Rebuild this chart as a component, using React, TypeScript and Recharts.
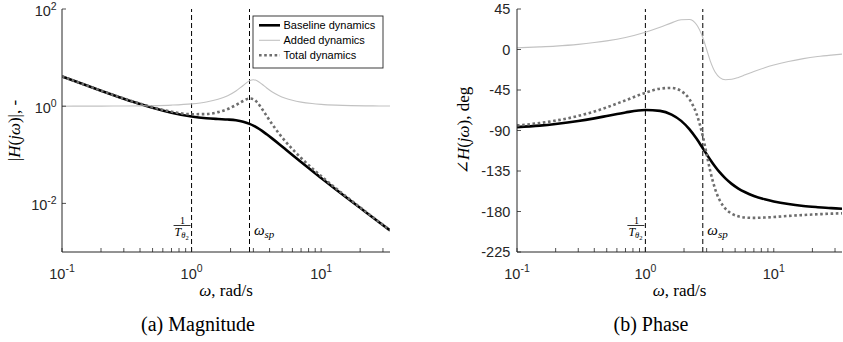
import React from 'react';
import { LineChart, Line, XAxis, YAxis, ReferenceLine } from 'recharts';

// ---- data ----
const freq = [0.1, 0.15, 0.2, 0.3, 0.4, 0.5, 0.7, 1.0, 1.3, 1.6, 1.9, 2.2, 2.5, 2.8, 3.0, 3.2, 3.5, 3.8, 4.2, 4.7, 5.3, 6, 7, 8.5, 10, 13, 17, 22, 28, 34];
const magBaseline = [4.105, 2.756, 2.087, 1.429, 1.11, 0.927, 0.734, 0.612, 0.565, 0.545, 0.532, 0.513, 0.48, 0.433, 0.398, 0.361, 0.31, 0.264, 0.215, 0.169, 0.13, 0.0989, 0.0709, 0.0469, 0.0334, 0.0194, 0.0112, 0.00667, 0.00411, 0.00278];
const magAdded = [1.001, 1.002, 1.004, 1.009, 1.016, 1.026, 1.053, 1.117, 1.221, 1.385, 1.646, 2.057, 2.667, 3.324, 3.5, 3.345, 2.835, 2.375, 1.964, 1.662, 1.457, 1.322, 1.215, 1.134, 1.092, 1.052, 1.029, 1.017, 1.011, 1.007];
const magTotal = [4.109, 2.762, 2.095, 1.442, 1.128, 0.951, 0.772, 0.684, 0.69, 0.755, 0.875, 1.055, 1.28, 1.441, 1.392, 1.209, 0.878, 0.628, 0.422, 0.28, 0.189, 0.131, 0.0861, 0.0532, 0.0365, 0.0204, 0.0116, 0.00679, 0.00415, 0.0028];
const phaseBaseline = [-86.3, -84.6, -82.8, -79.5, -76.5, -73.9, -69.9, -67.3, -68.2, -72.3, -79.3, -88.5, -99.0, -109.7, -116.3, -122.4, -130.2, -136.6, -143.2, -149.3, -154.5, -158.6, -162.7, -166.4, -168.8, -171.7, -173.8, -175.2, -176.3, -176.9];
const phaseAdded = [1.9, 2.9, 3.8, 5.7, 7.7, 9.6, 13.4, 19.2, 24.7, 29.6, 33.0, 33.4, 27.8, 13.4, 0, -12.6, -25.3, -31.2, -33.6, -33.1, -31.0, -28.1, -24.5, -20.3, -17.3, -13.3, -10.1, -7.8, -6.2, -5.1];
const phaseTotal = [-84.4, -81.7, -79.0, -73.8, -68.9, -64.3, -56.5, -48.1, -43.5, -42.7, -46.2, -55.1, -71.2, -96.2, -116.3, -135.0, -155.4, -167.8, -176.8, -182.4, -185.4, -186.7, -187.1, -186.7, -186.1, -184.9, -183.9, -183.1, -182.4, -182.0];

const seriesNames = ['Baseline dynamics', 'Added dynamics', 'Total dynamics'];
const xTicks = [0.1, 0.2, 0.3, 0.4, 0.5, 0.6, 0.7, 0.8, 0.9, 1, 2, 3, 4, 5, 6, 7, 8, 9, 10, 20, 30];
const magTicks = [0.01, 1, 100];
const phaseTicks = [-225, -180, -135, -90, -45, 0, 45];
const xDomain = [0.1, 34];
const magDomain = [0.001, 100];
const phaseDomain = [-225, 45];
const invTtheta2 = 1;
const omegaSp = 2.8;

// ---- styles ----
const AXIS = '#262626';
const SANS = '"Liberation Sans", Arial, Helvetica, sans-serif';
const SERIF = '"Liberation Serif", "Times New Roman", "DejaVu Serif", serif';
const seriesStyle = [
  { stroke: '#000000', width: 2.6, dash: undefined as string | undefined },
  { stroke: '#c2c2c2', width: 1.1, dash: undefined as string | undefined },
  { stroke: '#6e6e6e', width: 2.6, dash: '2.6 2.6' },
];

const magData = freq.map((f, i) => ({ f, s0: magBaseline[i], s1: magAdded[i], s2: magTotal[i] }));
const phaseData = freq.map((f, i) => ({ f, s0: phaseBaseline[i], s1: phaseAdded[i], s2: phaseTotal[i] }));

const isDecade = (v: number) => Math.abs(Math.log10(v) - Math.round(Math.log10(v))) < 1e-9;

const PowXTick = (props: any) => {
  const { x, y, payload } = props;
  const v = payload.value;
  if (!isDecade(v)) return <g />;
  const e = Math.round(Math.log10(v));
  return (
    <text x={x} y={y} textAnchor="middle" fontFamily={SANS} fontSize={14.5} fill={AXIS}>
      <tspan>10</tspan>
      <tspan dy={-6.5} fontSize={10.5}>{String(e)}</tspan>
    </text>
  );
};

const PowYTick = (props: any) => {
  const { x, y, payload } = props;
  const e = Math.round(Math.log10(payload.value));
  return (
    <text x={x} y={y + 6.5} textAnchor="end" fontFamily={SANS} fontSize={14.5} fill={AXIS}>
      <tspan>10</tspan>
      <tspan dy={-5.8} fontSize={10.5}>{String(e)}</tspan>
    </text>
  );
};

const PhaseYTick = (props: any) => {
  const { x, y, payload } = props;
  return (
    <text x={x} y={y + 5} textAnchor="end" fontFamily={SANS} fontSize={14.5} fill={AXIS}>
      {String(payload.value)}
    </text>
  );
};

const FracLabel = (props: any) => {
  const vb = props.viewBox || {};
  const lx = vb.x;
  const by = vb.y + vb.height;
  return (
    <g fontFamily={SERIF} fill="#000">
      <text x={lx - 9} y={by - 27.7} textAnchor="middle" fontSize={10}>1</text>
      <line x1={lx - 18} x2={lx - 1} y1={by - 26.5} y2={by - 26.5} stroke="#000" strokeWidth={0.8} />
      <text x={lx - 17} y={by - 16} fontSize={12} fontStyle="italic">
        T<tspan fontSize={8.5} dy={2}>θ</tspan>
        <tspan fontSize={6.5} dy={1.5} fontStyle="normal">2</tspan>
      </text>
    </g>
  );
};

const WspLabel = (props: any) => {
  const vb = props.viewBox || {};
  const lx = vb.x;
  const by = vb.y + vb.height;
  return (
    <text x={lx + 4.5} y={by - 17} fontFamily={SERIF} fontStyle="italic" fontSize={15} fill="#000">
      ω<tspan fontSize={11} dy={3}>sp</tspan>
    </text>
  );
};

type PanelProps = {
  left: number;
  width: number;
  yWidth: number;
  rightMargin: number;
  data: any[];
  yScale: 'log' | 'linear';
  yDomain: number[];
  yTicks: number[];
  yTick: any;
  yTickMargin: number;
};

const Panel = (p: PanelProps) => (
  <div style={{ position: 'absolute', left: p.left, top: 0 }}>
    <LineChart
      width={p.width}
      height={342}
      data={p.data}
      margin={{ top: 9, right: p.rightMargin, bottom: 0, left: 10 }}
      style={{ overflow: 'visible' }}
    >
      <XAxis
        dataKey="f"
        type="number"
        scale="log"
        domain={xDomain}
        allowDataOverflow
        ticks={xTicks}
        interval={0}
        height={90}
        tickSize={-4}
        tickMargin={30.5}
        tick={PowXTick}
        axisLine={{ stroke: AXIS, strokeWidth: 1 }}
        tickLine={{ stroke: AXIS, strokeWidth: 0.8 }}
      />
      <XAxis
        xAxisId="top"
        orientation="top"
        dataKey="f"
        type="number"
        scale="log"
        domain={xDomain}
        allowDataOverflow
        ticks={xTicks}
        interval={0}
        height={0}
        tickSize={-4}
        tick={false}
        axisLine={{ stroke: AXIS, strokeWidth: 1 }}
        tickLine={{ stroke: AXIS, strokeWidth: 0.8 }}
      />
      <YAxis
        type="number"
        scale={p.yScale}
        domain={p.yDomain}
        allowDataOverflow
        ticks={p.yTicks}
        interval={0}
        width={p.yWidth}
        tickSize={-4}
        tickMargin={p.yTickMargin}
        tick={p.yTick}
        axisLine={{ stroke: AXIS, strokeWidth: 1 }}
        tickLine={{ stroke: AXIS, strokeWidth: 0.8 }}
      />
      <YAxis
        yAxisId="r"
        orientation="right"
        type="number"
        scale={p.yScale}
        domain={p.yDomain}
        allowDataOverflow
        ticks={p.yTicks}
        interval={0}
        width={0}
        tickSize={-4}
        tick={false}
        axisLine={{ stroke: AXIS, strokeWidth: 1 }}
        tickLine={{ stroke: AXIS, strokeWidth: 0.8 }}
      />
      <ReferenceLine x={invTtheta2} stroke="#000" strokeWidth={1} strokeDasharray="5 3" label={(lp: any) => <FracLabel {...lp} />} />
      <ReferenceLine x={omegaSp} stroke="#000" strokeWidth={1} strokeDasharray="5 3" label={(lp: any) => <WspLabel {...lp} />} />
      {[0, 1, 2].map((i) => (
        <Line
          key={i}
          dataKey={'s' + i}
          name={seriesNames[i]}
          type="monotone"
          stroke={seriesStyle[i].stroke}
          strokeWidth={seriesStyle[i].width}
          strokeDasharray={seriesStyle[i].dash}
          dot={false}
          activeDot={false}
          isAnimationActive={false}
        />
      ))}
    </LineChart>
  </div>
);

export default function App() {
  return (
    <div style={{ position: 'absolute', left: 0, top: 0, width: 843, height: 342, background: '#fff', overflow: 'hidden' }}>
      <Panel
        left={0}
        width={400}
        yWidth={52}
        rightMargin={10}
        data={magData}
        yScale="log"
        yDomain={magDomain}
        yTicks={magTicks}
        yTick={PowYTick}
        yTickMargin={9.3}
      />
      <Panel
        left={420}
        width={423}
        yWidth={87}
        rightMargin={1}
        data={phaseData}
        yScale="linear"
        yDomain={phaseDomain}
        yTicks={phaseTicks}
        yTick={PhaseYTick}
        yTickMargin={10.7}
      />
      <svg width={843} height={342} style={{ position: 'absolute', left: 0, top: 0, pointerEvents: 'none' }}>
        {/* legend */}
        <g>
          <rect x={253} y={16} width={130} height={52} fill="#fff" stroke={AXIS} strokeWidth={0.9} />
          {seriesNames.map((n, i) => (
            <g key={n}>
              <line
                x1={259}
                x2={280}
                y1={25.3 + i * 15}
                y2={25.3 + i * 15}
                stroke={seriesStyle[i].stroke}
                strokeWidth={seriesStyle[i].width}
                strokeDasharray={seriesStyle[i].dash}
              />
              <text x={283.5} y={25.3 + i * 15 + 4} fontFamily={SANS} fontSize={11} fill="#000">{n}</text>
            </g>
          ))}
        </g>
        {/* axis titles */}
        <text x={226} y={296} textAnchor="middle" fontFamily={SERIF} fontSize={17} fill="#000">
          <tspan fontStyle="italic">ω</tspan>, rad/s
        </text>
        <text x={679.5} y={296} textAnchor="middle" fontFamily={SERIF} fontSize={17} fill="#000">
          <tspan fontStyle="italic">ω</tspan>, rad/s
        </text>
        <text transform="translate(20,130.5) rotate(-90)" textAnchor="middle" fontFamily={SERIF} fontSize={17} fill="#000">
          |<tspan fontStyle="italic">H</tspan>(<tspan fontStyle="italic">jω</tspan>)|, -
        </text>
        <text transform="translate(469,130.5) rotate(-90)" textAnchor="middle" fontFamily={SERIF} fontSize={17} fill="#000">
          ∠<tspan fontStyle="italic">H</tspan>(<tspan fontStyle="italic">jω</tspan>), deg
        </text>
        {/* captions */}
        <text x={198} y={330.5} textAnchor="middle" fontFamily={SERIF} fontSize={20} fill="#000">(a) Magnitude</text>
        <text x={651} y={330.5} textAnchor="middle" fontFamily={SERIF} fontSize={20} fill="#000">(b) Phase</text>
      </svg>
    </div>
  );
}
